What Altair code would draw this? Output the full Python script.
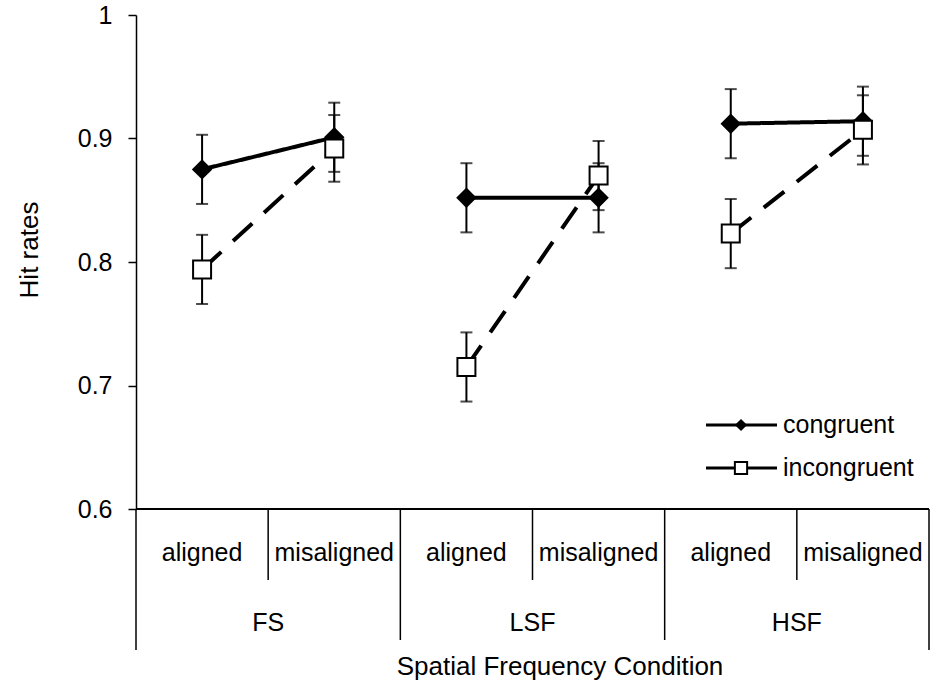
import altair as alt
import pandas as pd

# ---- data ----
groups = ["FS", "LSF", "HSF"]
alignments = ["aligned", "misaligned"]
conditions = ["congruent", "incongruent"]
congruent_mean = [0.875, 0.901, 0.852, 0.852, 0.912, 0.914]
congruent_err = [0.028, 0.028, 0.028, 0.028, 0.028, 0.028]
incongruent_mean = [0.794, 0.892, 0.715, 0.870, 0.823, 0.907]
incongruent_err = [0.028, 0.027, 0.028, 0.028, 0.028, 0.028]
y_ticks = [0.6, 0.7, 0.8, 0.9, 1.0]
x_title = "Spatial Frequency Condition"
y_title = "Hit rates"

FONT = "Liberation Sans"
W, H = 793, 494

keys = [f"{g} {a}" for g in groups for a in alignments]
cells = pd.DataFrame(
    {
        "key": keys,
        "group": [g for g in groups for a in alignments],
        "alignment": [a for g in groups for a in alignments],
    }
)

rows = []
for cond, means, errs in [
    ("congruent", congruent_mean, congruent_err),
    ("incongruent", incongruent_mean, incongruent_err),
]:
    for i, k in enumerate(keys):
        rows.append(
            {
                "key": k,
                "group": cells.loc[i, "group"],
                "condition": cond,
                "series": cond + " " + cells.loc[i, "group"],
                "mean": means[i],
                "lo": means[i] - errs[i],
                "hi": means[i] + errs[i],
            }
        )
df = pd.DataFrame(rows)

xscale = alt.Scale(type="band", domain=keys, paddingInner=0, paddingOuter=0)
yscale = alt.Scale(domain=[y_ticks[0], y_ticks[-1]], nice=False, zero=False)


def X(bp=None):
    if bp is None:
        return alt.X("key:N", scale=xscale, axis=None, sort=keys)
    return alt.X("key:N", scale=xscale, axis=None, sort=keys, bandPosition=bp)


yaxis = alt.Axis(
    values=y_ticks,
    format="~g",
    title=None,
    grid=False,
    domainColor="black",
    domainWidth=1.5,
    tickColor="black",
    tickWidth=1.5,
    tickSize=8,
    labelFont=FONT,
    labelFontSize=25,
    labelColor="black",
    labelPadding=16,
)

base = alt.Chart(df)

err_rule = base.mark_rule(color="black", strokeWidth=2).encode(
    x=X(), y=alt.Y("lo:Q", scale=yscale, axis=yaxis), y2="hi:Q"
)
cap_lo = base.mark_tick(color="black", size=12, thickness=2).encode(
    x=X(), y=alt.Y("lo:Q", scale=yscale)
)
cap_hi = base.mark_tick(color="black", size=12, thickness=2).encode(
    x=X(), y=alt.Y("hi:Q", scale=yscale)
)

lines = base.mark_line(color="black", strokeWidth=4).encode(
    x=X(),
    y=alt.Y("mean:Q", scale=yscale),
    detail="series:N",
    strokeDash=alt.StrokeDash(
        "condition:N",
        scale=alt.Scale(domain=conditions, range=[[1, 0], [26, 16]]),
        legend=None,
    ),
)

pts_c = (
    base.transform_filter(alt.datum.condition == "congruent")
    .mark_point(shape="diamond", filled=True, color="black", size=420, opacity=1)
    .encode(x=X(), y=alt.Y("mean:Q", scale=yscale))
)
pts_i = (
    base.transform_filter(alt.datum.condition == "incongruent")
    .mark_point(
        shape="square", filled=True, fill="white", stroke="black",
        strokeWidth=2, size=324, opacity=1,
    )
    .encode(x=X(), y=alt.Y("mean:Q", scale=yscale))
)

# ---- category axis (drawn) ----
base_line = alt.Chart(pd.DataFrame({"v": [y_ticks[0]]})).mark_rule(
    color="black", strokeWidth=2
).encode(y=alt.Y("v:Q", scale=yscale), x=alt.value(0), x2=alt.value(W))

left_ext = alt.Chart(pd.DataFrame({"v": [0]})).mark_rule(
    color="black", strokeWidth=1.5
).encode(x=alt.value(0), y=alt.value(H), y2=alt.value(H + 141))

cells_c = alt.Chart(cells)
short_div = cells_c.transform_filter(alt.datum.alignment == "misaligned").mark_rule(
    color="black", strokeWidth=1.5
).encode(x=X(0), y=alt.value(H), y2=alt.value(H + 71))
group_div = cells_c.transform_filter(
    (alt.datum.alignment == "aligned") & (alt.datum.group != groups[0])
).mark_rule(color="black", strokeWidth=1.5).encode(
    x=X(0), y=alt.value(H), y2=alt.value(H + 131)
)
right_end = cells_c.transform_filter(alt.datum.key == keys[-1]).mark_rule(
    color="black", strokeWidth=1.5
).encode(x=X(1), y=alt.value(H), y2=alt.value(H + 141))

align_lbl = cells_c.mark_text(
    font=FONT, fontSize=25, color="black", baseline="middle", align="center"
).encode(x=X(), y=alt.value(H + 44), text="alignment:N")
group_lbl = cells_c.transform_filter(alt.datum.alignment == "misaligned").mark_text(
    font=FONT, fontSize=25, color="black", baseline="middle", align="center"
).encode(x=X(0), y=alt.value(H + 114), text="group:N")

xt = alt.Chart(pd.DataFrame({"t": [x_title]})).mark_text(
    font=FONT, fontSize=26, color="black", baseline="middle", align="center"
).encode(x=alt.value(424), y=alt.value(H + 158), text="t:N")
yt = alt.Chart(pd.DataFrame({"t": [y_title]})).mark_text(
    font=FONT, fontSize=26, color="black", baseline="middle", align="center", angle=270
).encode(x=alt.value(-106), y=alt.value(235), text="t:N")

# ---- legend (drawn) ----
leg_layers = []
for i, cond in enumerate(conditions):
    ypx = 410 + 43 * i
    ld = alt.Chart(pd.DataFrame({"label": [cond]}))
    leg_layers.append(
        ld.mark_rule(color="black", strokeWidth=3).encode(
            x=alt.value(570), x2=alt.value(641), y=alt.value(ypx)
        )
    )
    if cond == "congruent":
        leg_layers.append(
            ld.mark_point(shape="diamond", filled=True, color="black", size=150, opacity=1).encode(
                x=alt.value(605), y=alt.value(ypx)
            )
        )
    else:
        leg_layers.append(
            ld.mark_point(
                shape="square", filled=True, fill="white", stroke="black",
                strokeWidth=2, size=150, opacity=1,
            ).encode(x=alt.value(605), y=alt.value(ypx))
        )
    leg_layers.append(
        ld.mark_text(
            font=FONT, fontSize=25, color="black", align="left", baseline="middle"
        ).encode(x=alt.value(647), y=alt.value(ypx), text="label:N")
    )

chart = (
    alt.layer(
        err_rule, cap_lo, cap_hi, lines, pts_c, pts_i,
        base_line, left_ext, short_div, group_div, right_end,
        align_lbl, group_lbl, xt, yt, *leg_layers,
    )
    .properties(
        width=W,
        height=H,
        padding={"left": 136, "top": 15, "right": 2, "bottom": 176},
        autosize=alt.AutoSizeParams(type="none"),
        background="white",
    )
    .configure_view(stroke=None)
)

chart.save("out.html", embed_options={"renderer": "svg", "actions": False})
